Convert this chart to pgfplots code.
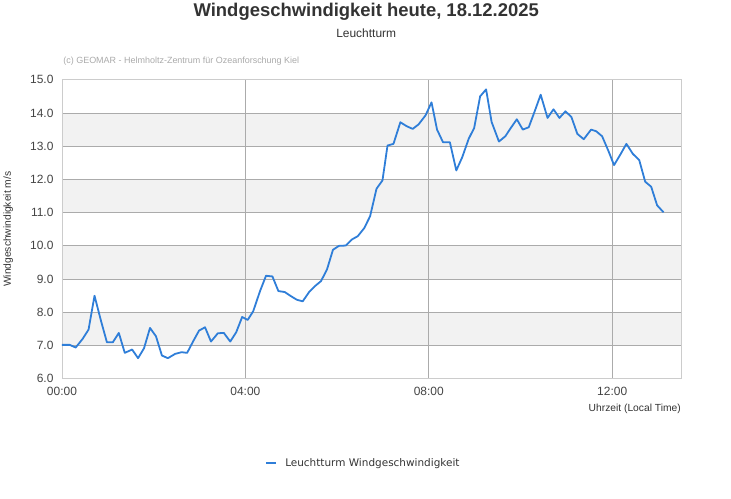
\documentclass[border=0pt]{standalone}
\usepackage{pgfplots}
\pgfplotsset{compat=1.18}
\usepackage{fontspec}
\setmainfont{Liberation Sans}
\newfontfamily\legendfont{DejaVu Sans}

\definecolor{windblue}{HTML}{2F7ED8}
\definecolor{titlegray}{HTML}{333333}
\definecolor{ticktext}{HTML}{444444}
\definecolor{copygray}{HTML}{AAAAAA}
\definecolor{bandgray}{HTML}{F2F2F2}
\definecolor{gridgray}{HTML}{ABABAB}
\definecolor{framegray}{HTML}{CCCCCC}

% time in hours, wind speed in m/s
\pgfplotstableread{
t v
0.00 7.02
0.17 7.02
0.30 6.94
0.45 7.20
0.58 7.48
0.71 8.50
0.85 7.75
0.98 7.10
1.11 7.10
1.24 7.38
1.37 6.78
1.53 6.88
1.66 6.62
1.79 6.92
1.92 7.53
2.05 7.28
2.18 6.70
2.31 6.62
2.47 6.75
2.61 6.80
2.73 6.78
2.87 7.15
2.99 7.45
3.12 7.55
3.25 7.12
3.40 7.37
3.53 7.38
3.67 7.12
3.80 7.40
3.93 7.86
4.05 7.77
4.17 8.03
4.32 8.64
4.45 9.10
4.59 9.08
4.72 8.64
4.86 8.61
4.99 8.49
5.12 8.38
5.25 8.33
5.39 8.61
5.51 8.78
5.65 8.94
5.78 9.29
5.91 9.88
6.04 10.00
6.19 10.01
6.32 10.19
6.45 10.29
6.59 10.53
6.72 10.89
6.86 11.72
6.99 11.97
7.10 13.02
7.23 13.07
7.38 13.72
7.52 13.60
7.65 13.52
7.78 13.66
7.93 13.93
8.06 14.32
8.18 13.50
8.31 13.12
8.46 13.12
8.60 12.27
8.73 12.67
8.87 13.22
8.99 13.55
9.12 14.50
9.25 14.71
9.37 13.73
9.53 13.14
9.67 13.30
9.79 13.55
9.92 13.81
10.05 13.50
10.18 13.57
10.31 14.05
10.44 14.55
10.59 13.85
10.72 14.11
10.85 13.85
10.98 14.05
11.11 13.88
11.24 13.37
11.38 13.21
11.54 13.50
11.65 13.45
11.78 13.30
11.92 12.85
12.04 12.43
12.17 12.73
12.31 13.07
12.45 12.77
12.59 12.58
12.72 11.93
12.85 11.78
12.98 11.22
13.12 11.01
}\windtable

\begin{document}
\begin{tikzpicture}
\path (0pt,0pt) rectangle (731pt,500pt);
\node[font=\bfseries\fontsize{18.5}{20}\selectfont, text=titlegray] at (365pt,488pt) {Windgeschwindigkeit heute, 18.12.2025};
\node[font=\fontsize{12}{14}\selectfont, text=titlegray] at (365pt,467pt) {Leuchtturm};
\node[anchor=west, inner sep=0pt, font=\fontsize{9}{10}\selectfont, text=copygray] at (61pt,439pt) {(c) GEOMAR - Helmholtz-Zentrum für Ozeanforschung Kiel};

\begin{axis}[
    at={(59.8pt,120pt)}, anchor=south west,
    scale only axis,
    width=621pt, height=300pt,
    set layers,
    xmin=0, xmax=13.5,
    ymin=6, ymax=15,
    xtick={0,4,8,12},
    xticklabels={00:00,04:00,08:00,12:00},
    ytick={6,7,...,15},
    yticklabel style={/pgf/number format/fixed, /pgf/number format/fixed zerofill,
        /pgf/number format/precision=1, xshift=-5pt},
    /pgf/number format/assume math mode=true,
    tick label style={font=\fontsize{12}{14}\selectfont, text=ticktext},
    xticklabel style={yshift=-5pt},
    major tick length=0pt,
    grid=major,
    major grid style={color=gridgray, line width=0.8pt},
    axis line style={color=framegray, line width=0.8pt},
    xlabel={Uhrzeit (Local Time)},
    xlabel style={at={(axis description cs:1,-0.1)}, anchor=east, inner xsep=0pt,
        font=\fontsize{10.3}{12}\selectfont, text=titlegray},
    ylabel={Windgeschwindigkeit m/s},
    ylabel style={at={(axis description cs:-0.087,0.5)}, anchor=center,
        font=\fontsize{10.3}{12}\selectfont, text=titlegray},
    legend style={at={(axis description cs:0.487,-0.283)}, anchor=center, draw=none, fill=none,
        font=\legendfont\fontsize{10.5}{12}\selectfont, text=titlegray,
        /tikz/every odd column/.append style={column sep=6pt}},
    legend image code/.code={\draw[#1, line width=2pt] (0pt,0pt) -- (10pt,0pt);},
]
\begin{pgfonlayer}{axis background}
\fill[bandgray] (axis cs:0,7) rectangle (axis cs:13.5,8);
\fill[bandgray] (axis cs:0,9) rectangle (axis cs:13.5,10);
\fill[bandgray] (axis cs:0,11) rectangle (axis cs:13.5,12);
\fill[bandgray] (axis cs:0,13) rectangle (axis cs:13.5,14);
\end{pgfonlayer}
\addplot[windblue, line width=1.8pt, line join=round] table[x=t, y=v] {\windtable};
\addlegendentry{Leuchtturm Windgeschwindigkeit}
\end{axis}
\end{tikzpicture}
\end{document}
